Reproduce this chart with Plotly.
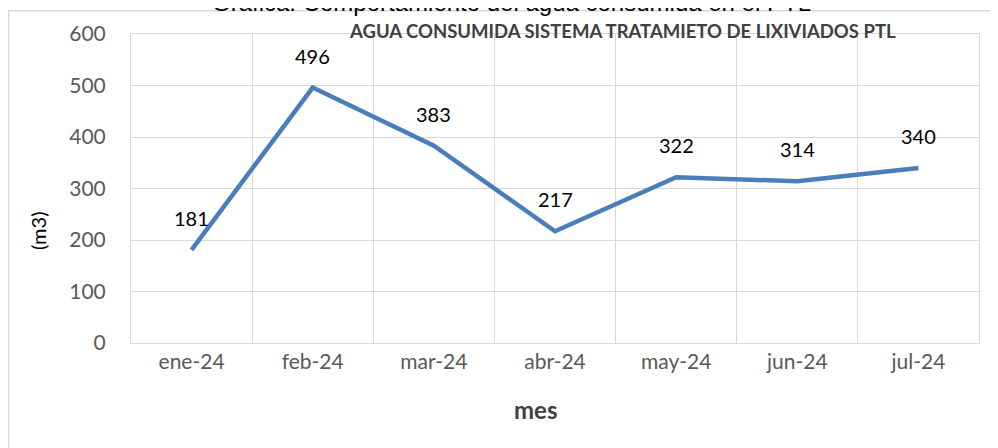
import plotly.graph_objects as go

months = ["ene-24", "feb-24", "mar-24", "abr-24", "may-24", "jun-24", "jul-24"]
consumo = [181, 496, 383, 217, 322, 314, 340]
y_ticks = [0, 100, 200, 300, 400, 500, 600]

OFF = 8  # page body margin
W, H = 990, 440
L, R, T, B = 131 - OFF, 979 - OFF, 31 - OFF, 343 - OFF  # plot area in figure px


def px(x):  # x given in page pixels
    return (x - OFF - L) / (R - L)


def py(y):  # y given in page pixels
    return (B - (y - OFF)) / (B - T)


FONT = "Lato"
fig = go.Figure()
fig.add_trace(go.Scatter(
    x=months, y=consumo, mode="lines",
    line=dict(color="#4A7EBB", width=4.5),
    hoverinfo="x+y", showlegend=False,
))

annotations = []
for m, v in zip(months, consumo):
    annotations.append(dict(
        x=m, y=v, xref="x", yref="y", text=str(v), showarrow=False,
        yshift=32, font=dict(family=FONT, size=20, color="#000000"),
    ))

annotations += [
    dict(text="Grafica: Comportamiento del agua consumida en el PTL",
         xref="paper", yref="paper", x=px(511), y=py(15), xanchor="center",
         yanchor="bottom", showarrow=False,
         font=dict(family="Liberation Sans", size=24, color="#000000")),
    dict(text="<b>AGUA CONSUMIDA SISTEMA TRATAMIETO DE LIXIVIADOS PTL</b>",
         xref="paper", yref="paper", x=px(622), y=py(28), xanchor="center",
         yanchor="middle", showarrow=False,
         font=dict(family=FONT, size=18.5, color="#404040")),
    dict(text="<b>mes</b>", xref="paper", yref="paper", x=px(535), y=py(410),
         xanchor="center", yanchor="middle", showarrow=False,
         font=dict(family=FONT, size=24, color="#404040")),
    dict(text="(m3)", xref="paper", yref="paper", x=px(38), y=py(230),
         xanchor="center", yanchor="middle", showarrow=False, textangle=-90,
         font=dict(family=FONT, size=20, color="#000000")),
]

fig.update_layout(
    width=W, height=H,
    margin=dict(l=L, r=W - R, t=T, b=H - B, pad=0),
    paper_bgcolor="white", plot_bgcolor="white",
    annotations=annotations,
    shapes=[dict(type="rect", xref="paper", yref="paper",
                 x0=px(8.5), x1=px(1010), y0=py(7.5), y1=py(470),
                 line=dict(color="#d9d9d9", width=1.5), layer="below")],
)
fig.update_xaxes(
    type="category", tickson="boundaries", showgrid=True,
    gridcolor="#d9d9d9", gridwidth=1,
    showline=True, linecolor="#d9d9d9", linewidth=1, mirror=True,
    ticks="outside", ticklen=20, tickcolor="rgba(0,0,0,0)",
    tickfont=dict(family=FONT, size=21, color="#595959"),
    range=[-0.5, 6.5],
)
fig.update_yaxes(
    range=[0, 600], tickvals=y_ticks, showgrid=True,
    gridcolor="#d9d9d9", gridwidth=1, zeroline=False,
    showline=True, linecolor="#d9d9d9", linewidth=1, mirror=True,
    ticks="outside", ticklen=20, tickcolor="rgba(0,0,0,0)",
    tickfont=dict(family=FONT, size=21, color="#595959"),
)

fig.write_html("out.html")
